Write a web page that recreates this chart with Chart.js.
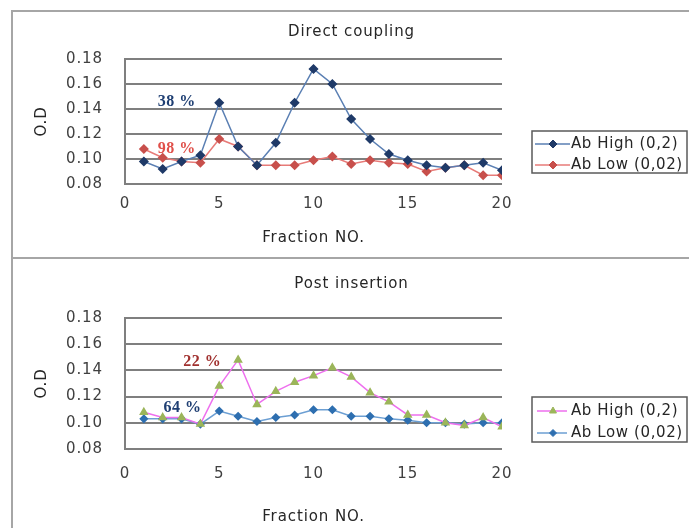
<!DOCTYPE html>
<html>
<head>
<meta charset="utf-8">
<script src="https://cdn.jsdelivr.net/npm/chart.js@4/dist/chart.umd.min.js"></script>
<style>
html, body { margin: 0; padding: 0; background: #fff; }
#wrap { position: relative; width: 689px; height: 528px; overflow: hidden; background: #fff; }
.line { position: absolute; background: #a6a6a6; }
canvas { position: absolute; }
</style>
</head>
<body>
<div id="wrap">
  <div class="line" style="left:11px;top:10px;width:678px;height:2px;"></div>
  <div class="line" style="left:11px;top:10px;width:2px;height:518px;"></div>
  <div class="line" style="left:11px;top:257px;width:678px;height:2px;"></div>
  <canvas id="c1" width="675" height="244" style="left:14px;top:13px;"></canvas>
  <canvas id="c2" width="675" height="267" style="left:14px;top:261px;"></canvas>
</div>
<script>
// ---- data ----
const fractions = [1, 2, 3, 4, 5, 6, 7, 8, 9, 10, 11, 12, 13, 14, 15, 16, 17, 18, 19, 20];
const directHigh = [0.098, 0.092, 0.098, 0.103, 0.145, 0.110, 0.095, 0.113, 0.145, 0.172, 0.160, 0.132, 0.116, 0.104, 0.099, 0.095, 0.093, 0.095, 0.097, 0.091];
const directLow  = [0.108, 0.101, 0.098, 0.097, 0.116, 0.110, 0.095, 0.095, 0.095, 0.099, 0.102, 0.096, 0.099, 0.097, 0.096, 0.090, 0.093, 0.095, 0.087, 0.087];
const postHigh   = [0.108, 0.104, 0.104, 0.099, 0.128, 0.148, 0.114, 0.124, 0.131, 0.136, 0.142, 0.135, 0.123, 0.116, 0.106, 0.106, 0.100, 0.098, 0.104, 0.097];
const postLow    = [0.103, 0.103, 0.103, 0.099, 0.109, 0.105, 0.101, 0.104, 0.106, 0.110, 0.110, 0.105, 0.105, 0.103, 0.102, 0.100, 0.100, 0.099, 0.100, 0.100];
const seriesNames = ['Ab High (0,2)', 'Ab Low (0,02)'];
const chartTitles = ['Direct coupling', 'Post insertion'];
const xTitle = 'Fraction NO.';
const yTitle = 'O.D';
const xTickRange = [0, 20, 5];
const yTickRange = [0.08, 0.18, 0.02];
const directPctText = ['38 %', '98 %'];
const directPctX = [2.75, 2.75];
const directPctY = [0.1455, 0.1085];
const postPctText = ['22 %', '64 %'];
const postPctX = [4.1, 3.05];
const postPctY = [0.1465, 0.1112];

// ---- helpers ----
const FONT = '"DejaVu Sans", Verdana, sans-serif';
function pts(arr) { return fractions.map((f, i) => ({ x: f, y: arr[i] })); }

const spacing = {
  id: 'spacing',
  beforeDraw(chart) { chart.ctx.letterSpacing = '0.9px'; }
};

const boxLegend = {
  id: 'boxLegend',
  afterDraw(chart, args, o) {
    const ctx = chart.ctx;
    ctx.save();
    ctx.strokeStyle = '#5a5a5a';
    ctx.lineWidth = 1.5;
    ctx.strokeRect(o.x, o.y, o.w, o.h);
    chart.data.datasets.forEach((ds, i) => {
      const cy = o.rows[i];
      ctx.strokeStyle = ds.borderColor;
      ctx.lineWidth = ds.borderWidth;
      ctx.beginPath(); ctx.moveTo(o.x0, cy); ctx.lineTo(o.x1, cy); ctx.stroke();
      ctx.fillStyle = ds.pointBackgroundColor;
      ctx.strokeStyle = ds.pointBorderColor;
      ctx.lineWidth = 1;
      Chart.helpers.drawPoint(ctx, { pointStyle: ds.pointStyle, radius: ds.pointRadius, rotation: 0, borderWidth: 1 }, o.mx, cy);
      ctx.fillStyle = '#262626';
      ctx.font = '15px ' + FONT;
      ctx.letterSpacing = '0.6px';
      ctx.textAlign = 'left';
      ctx.textBaseline = 'middle';
      ctx.fillText(ds.label, o.tx, cy);
    });
    ctx.restore();
  }
};

const pctLabels = {
  id: 'pctLabels',
  afterDatasetsDraw(chart, args, o) {
    const ctx = chart.ctx;
    const xs = chart.scales.x, ys = chart.scales.y;
    ctx.save();
    ctx.font = 'bold 16px "Liberation Serif", "Times New Roman", serif';
    ctx.letterSpacing = '0.5px';
    ctx.textAlign = 'center';
    ctx.textBaseline = 'middle';
    o.text.forEach((t, i) => {
      ctx.fillStyle = o.colors[i];
      ctx.fillText(t, xs.getPixelForValue(o.xs[i]), ys.getPixelForValue(o.ys[i]));
    });
    ctx.restore();
  }
};

function makeChart(id, cfg) {
  return new Chart(document.getElementById(id), {
    type: 'line',
    data: { datasets: cfg.datasets },
    options: {
      responsive: false,
      animation: false,
      events: [],
      layout: { padding: 0 },
      plugins: {
        legend: { display: false },
        tooltip: { enabled: false },
        title: {
          display: true, text: cfg.title, color: '#262626',
          font: { family: FONT, size: 15, weight: 'normal' },
          padding: { top: cfg.titlePadTop, bottom: cfg.titlePadBottom }
        },
        boxLegend: cfg.legend,
        pctLabels: cfg.pct
      },
      scales: {
        x: {
          type: 'linear', min: xTickRange[0], max: xTickRange[1],
          afterFit: s => { s.height = cfg.xHeight; },
          ticks: { stepSize: xTickRange[2], color: '#404040', padding: cfg.xTickPad, font: { family: FONT, size: 15 } },
          grid: { display: false, drawTicks: false },
          border: { display: false },
          title: { display: true, text: xTitle, color: '#262626', font: { family: FONT, size: 15 }, padding: { top: 0, bottom: cfg.xTitlePad } }
        },
        y: {
          min: yTickRange[0], max: yTickRange[1],
          afterFit: s => { s.width = 111; },
          ticks: { stepSize: yTickRange[2], color: '#404040', padding: 22, font: { family: FONT, size: 15 }, callback: v => v.toFixed(2) },
          grid: { color: '#7f7f7f', lineWidth: 2, drawTicks: false },
          border: { display: true, color: '#7f7f7f', width: 2 },
          title: { display: true, text: yTitle, color: '#262626', font: { family: FONT, size: 15 }, padding: { top: 19, bottom: 0 } }
        },
        legendSpace: {
          type: 'linear', position: 'right', display: true,
          afterFit: s => { s.width = 187; },
          ticks: { display: false },
          grid: { display: false, drawTicks: false },
          border: { display: false }
        }
      }
    },
    plugins: [spacing, boxLegend, pctLabels]
  });
}

makeChart('c1', {
  title: chartTitles[0], titlePadTop: 10, titlePadBottom: 18,
  xHeight: 73, xTickPad: 11, xTitlePad: 10,
  datasets: [
    { label: seriesNames[0], data: pts(directHigh), borderColor: '#5a7fb3', borderWidth: 1.5,
      pointStyle: 'rectRot', pointRadius: 4, pointBackgroundColor: '#1f3a68', pointBorderColor: '#1f3a68', tension: 0 },
    { label: seriesNames[1], data: pts(directLow), borderColor: '#e77b78', borderWidth: 1.5,
      pointStyle: 'rectRot', pointRadius: 4, pointBackgroundColor: '#c8504c', pointBorderColor: '#c8504c', tension: 0 }
  ],
  legend: { x: 518, y: 118, w: 155, h: 42, rows: [131, 152], x0: 521, x1: 556, mx: 539, tx: 557 },
  pct: { text: directPctText, xs: directPctX, ys: directPctY, colors: ['#1f3f73', '#e0504a'] }
});

makeChart('c2', {
  title: chartTitles[1], titlePadTop: 14, titlePadBottom: 25,
  xHeight: 79, xTickPad: 16, xTitlePad: 2,
  datasets: [
    { label: seriesNames[0], data: pts(postHigh), borderColor: '#ee6fee', borderWidth: 1.5,
      pointStyle: 'triangle', pointRadius: 4, pointBackgroundColor: '#9bb55a', pointBorderColor: '#9bb55a', tension: 0 },
    { label: seriesNames[1], data: pts(postLow), borderColor: '#6c9fd3', borderWidth: 1.5,
      pointStyle: 'rectRot', pointRadius: 3.5, pointBackgroundColor: '#2e6fb0', pointBorderColor: '#2e6fb0', tension: 0 }
  ],
  legend: { x: 518, y: 136, w: 155, h: 45, rows: [150, 172], x0: 523, x1: 553, mx: 539, tx: 557 },
  pct: { text: postPctText, xs: postPctX, ys: postPctY, colors: ['#a0302e', '#1f3f73'] }
});
</script>
</body>
</html>
